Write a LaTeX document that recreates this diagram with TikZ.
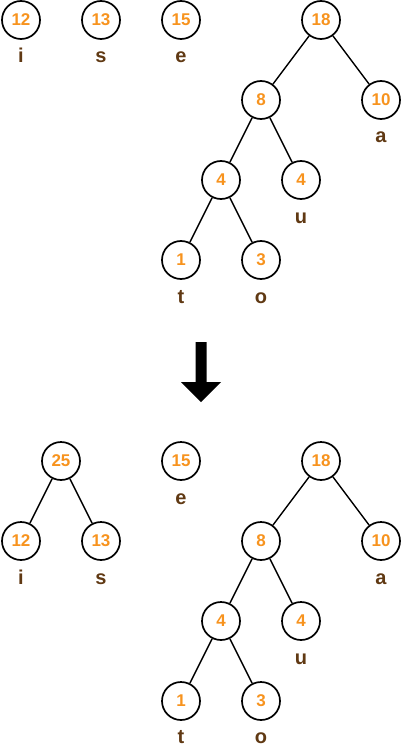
\documentclass[tikz,border=0pt]{standalone}
\usepackage{fontspec}
\setmainfont{Liberation Sans}
\definecolor{numc}{HTML}{F7931E}
\definecolor{labc}{HTML}{603913}
\begin{document}
\begin{tikzpicture}[x=1pt,y=-1pt,
  nd/.style={circle,draw=black,line width=1.7pt,minimum size=38pt,inner sep=0pt,
    text=numc,font=\fontsize{17}{17}\selectfont\bfseries},
  lab/.style={anchor=base,text=labc,inner sep=0pt,font=\fontsize{20}{20}\selectfont\bfseries},
  ed/.style={line width=1.4pt,black}]
\useasboundingbox (0,0) rectangle (402,746);
% top part
\node[nd] (a12) at (21,20) {12};
\node[nd] (a13) at (101,20) {13};
\node[nd] (a15) at (181,20) {15};
\node[nd] (a18) at (321,20) {18};
\node[nd] (a8) at (261,100) {8};
\node[nd] (a10) at (381,100) {10};
\node[nd] (a4) at (221,180) {4};
\node[nd] (a4u) at (301,180) {4};
\node[nd] (a1) at (181,260) {1};
\node[nd] (a3) at (261,260) {3};
\node[lab] (ai) at (21,63) {i};
\node[lab] (as) at (101,63) {s};
\node[lab] (ae) at (181,63) {e};
\node[lab] (aa) at (381,143) {a};
\node[lab] (au) at (301,223) {u};
\node[lab] (at) at (181,303) {t};
\node[lab] (ao) at (261,303) {o};
\draw[ed] (a18) -- (a8);
\draw[ed] (a18) -- (a10);
\draw[ed] (a8) -- (a4);
\draw[ed] (a8) -- (a4u);
\draw[ed] (a4) -- (a1);
\draw[ed] (a4) -- (a3);
% arrow
\fill[black] (195.5,342) -- (206.5,342) -- (206.5,382) -- (221,382) -- (201,402) -- (181,382) -- (195.5,382) -- cycle;
% bottom part
\node[nd] (b25) at (61,461) {25};
\node[nd] (b12) at (21,541) {12};
\node[nd] (b13) at (101,541) {13};
\node[nd] (b15) at (181,461) {15};
\node[nd] (b18) at (321,461) {18};
\node[nd] (b8) at (261,541) {8};
\node[nd] (b10) at (381,541) {10};
\node[nd] (b4) at (221,621) {4};
\node[nd] (b4u) at (301,621) {4};
\node[nd] (b1) at (181,701) {1};
\node[nd] (b3) at (261,701) {3};
\node[lab] (bi) at (21,584) {i};
\node[lab] (bs) at (101,584) {s};
\node[lab] (be) at (181,504) {e};
\node[lab] (ba) at (381,584) {a};
\node[lab] (bu) at (301,664) {u};
\node[lab] (bt) at (181,743) {t};
\node[lab] (bo) at (261,743) {o};
\draw[ed] (b25) -- (b12);
\draw[ed] (b25) -- (b13);
\draw[ed] (b18) -- (b8);
\draw[ed] (b18) -- (b10);
\draw[ed] (b8) -- (b4);
\draw[ed] (b8) -- (b4u);
\draw[ed] (b4) -- (b1);
\draw[ed] (b4) -- (b3);
\end{tikzpicture}
\end{document}
